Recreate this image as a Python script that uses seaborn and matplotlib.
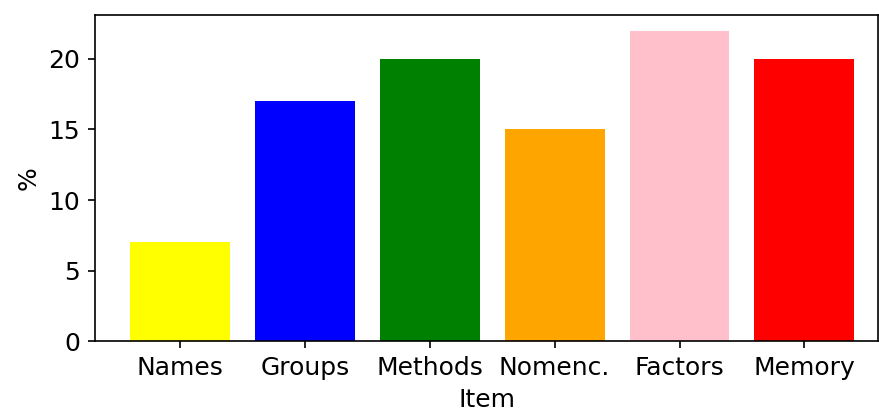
import matplotlib
matplotlib.use("Agg")
import matplotlib.pyplot as plt
import seaborn as sns
import pandas as pd

items = ["Names", "Groups", "Methods", "Nomenc.", "Factors", "Memory"]
values = [7, 17, 20, 15, 22, 20]
colors = ["yellow", "blue", "green", "orange", "pink", "red"]

plt.rcParams["font.family"] = ["DejaVu Sans"]
plt.rcParams["font.size"] = 12

df = pd.DataFrame({"Item": items, "%": values})

fig = plt.figure(figsize=(879 / 150, 410 / 150), dpi=150)
ax = fig.add_axes([0.108, 0.168, 0.891, 0.795])
sns.barplot(data=df, x="Item", y="%", hue="Item", palette=colors,
            saturation=1, width=0.8, legend=False, ax=ax)
ax.set_xlim(-0.68, 5.59)
ax.set_ylim(0, 23.1)
ax.set_yticks([0, 5, 10, 15, 20])
for s in ax.spines.values():
    s.set_visible(True)
    s.set_color("black")
fig.savefig("out.png", dpi=150)
